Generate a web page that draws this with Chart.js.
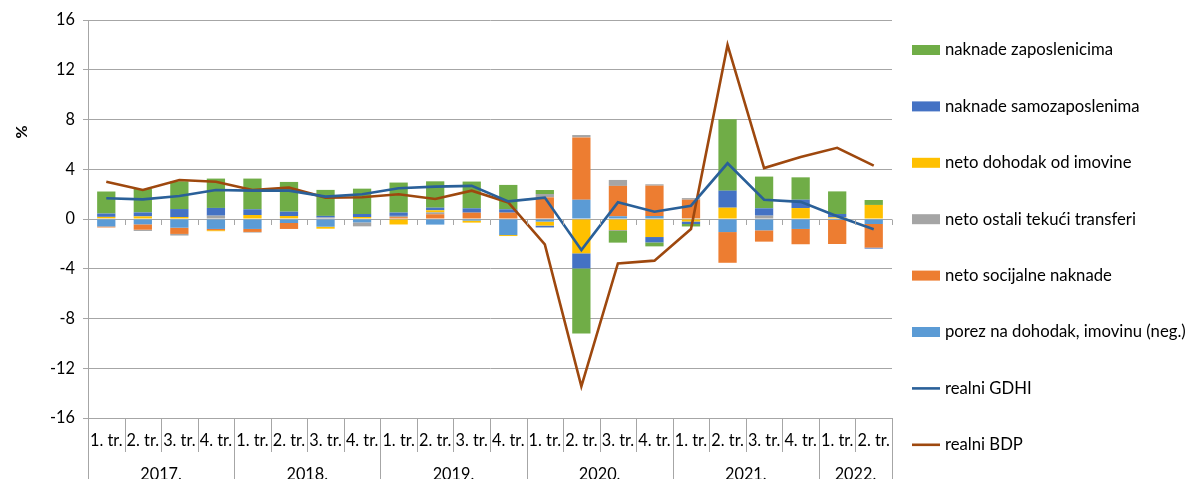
<!DOCTYPE html>
<html><head><meta charset="utf-8">
<script src="https://cdn.jsdelivr.net/npm/chart.js@4.4.0/dist/chart.umd.min.js"></script>
<style>html,body{margin:0;padding:0;background:#fff;overflow:hidden}</style>
</head><body>
<canvas id="c" width="1188" height="479" style="width:1188px;height:479px;display:block"></canvas>
<script>
const quarters = ['1. tr.','2. tr.','3. tr.','4. tr.','1. tr.','2. tr.','3. tr.','4. tr.','1. tr.','2. tr.','3. tr.','4. tr.','1. tr.','2. tr.','3. tr.','4. tr.','1. tr.','2. tr.','3. tr.','4. tr.','1. tr.','2. tr.'];
const years = ['2017.','2018.','2019.','2020.','2021.','2022.'];
const yearSpans = [4,4,4,4,4,2];
const yTicks = [-16,-12,-8,-4,0,4,8,12,16];

const porez       = [-0.6,-0.43,-0.7,-0.8,-0.8,-0.32,-0.62,-0.27,-0.02,-0.45,-0.13,-1.29,-0.21,1.55,0.22,0.24,0.05,-1.05,-0.91,-0.8,-0.08,-0.4];
const socijalne   = [-0.08,-0.43,-0.5,-0.1,-0.24,-0.48,0,0,0.15,0.38,0.51,0.51,1.74,5.01,2.44,2.44,1.5,-2.47,-0.91,-1.23,-1.93,-1.9];
const ostali      = [0.05,-0.1,-0.13,0.27,-0.05,0.05,0.12,-0.32,0.1,0.16,0,0,0.27,0.19,0.48,0.11,0.13,0,0.27,0,0.05,0];
const imovina     = [0.12,0.21,0.16,-0.08,0.32,0.19,-0.16,0.16,-0.42,0.16,-0.16,-0.08,-0.32,-2.76,-0.91,-1.45,-0.2,0.91,0,0.88,0.08,1.13];
const samozap     = [0.27,0.32,0.64,0.62,0.46,0.35,0.13,0.24,0.27,0.21,0.35,0.27,-0.15,-1.21,-0.05,-0.43,-0.2,1.37,0.59,0.67,0.27,-0.08];
const zaposlenici = [1.77,1.88,2.23,2.36,2.47,2.39,2.09,2.04,2.41,2.12,2.15,1.96,0.32,-5.23,-0.94,-0.32,-0.2,5.74,2.55,1.8,1.82,0.4];
const gdhi        = [1.67,1.58,1.85,2.33,2.28,2.28,1.8,1.99,2.47,2.6,2.66,1.42,1.72,-2.49,1.34,0.59,1.07,4.48,1.55,1.38,0.22,-0.83];
const bdp         = [3.0,2.33,3.14,3.0,2.33,2.52,1.72,1.75,1.99,1.61,2.28,1.33,-2.04,-13.45,-3.57,-3.35,-0.8,14.0,4.1,4.98,5.72,4.29];

const FONT = 'Lato, "Open Sans", sans-serif';
const GRID = '#A6A6A6';

function bar(label, data, color){
  return {type:'bar', label, data, backgroundColor:color, borderWidth:0, stack:'s', order:1,
          barPercentage:0.5, categoryPercentage:1.0};
}
function line(label, data, color, st){
  return {type:'line', label, data, borderColor:color, backgroundColor:color, borderWidth:2.6,
          pointRadius:0, tension:0, fill:false, stack:st, order:0};
}

const datasets = [
  bar('porez na dohodak, imovinu (neg.)', porez, '#5B9BD5'),
  bar('neto socijalne naknade', socijalne, '#ED7D31'),
  bar('neto ostali tekući transferi', ostali, '#A5A5A5'),
  bar('neto dohodak od imovine', imovina, '#FFC000'),
  bar('naknade samozaposlenima', samozap, '#4472C4'),
  bar('naknade zaposlenicima', zaposlenici, '#70AD47'),
  line('realni GDHI', gdhi, '#2A6099', 'l1'),
  line('realni BDP', bdp, '#9E480E', 'l2')
];
const legendOrder = [5,4,3,2,1,0,6,7];

const customDraw = {
  id:'customDraw',
  afterDraw(chart){
    const ctx = chart.ctx, xs = chart.scales.x, ys = chart.scales.y, ca = chart.chartArea;
    const half = (xs.getPixelForValue(1) - xs.getPixelForValue(0)) / 2;
    const n = quarters.length;
    const y0 = ys.getPixelForValue(0);
    ctx.save();
    ctx.strokeStyle = GRID; ctx.lineWidth = 1;
    const yearBounds = new Set([0]);
    let acc = 0; yearSpans.forEach(s => { acc += s; yearBounds.add(acc); });
    for (let k = 0; k <= n; k++){
      const x = Math.round(xs.getPixelForValue(k) - half) + 0.5;
      if (k > 0){
        ctx.beginPath(); ctx.moveTo(x, Math.round(y0)+0.5); ctx.lineTo(x, Math.round(y0)+6); ctx.stroke();
      }
      ctx.beginPath();
      ctx.moveTo(x, ca.bottom);
      ctx.lineTo(x, yearBounds.has(k) ? chart.height : ca.bottom + 34);
      ctx.stroke();
    }
    ctx.fillStyle = '#000';
    ctx.font = '16.3px ' + FONT;
    ctx.textAlign = 'center'; ctx.textBaseline = 'alphabetic';
    quarters.forEach((q,i) => ctx.fillText(q, xs.getPixelForValue(i), ca.bottom + 28));
    let start = 0;
    years.forEach((yl,j) => {
      const a = xs.getPixelForValue(start) - half;
      const b = xs.getPixelForValue(start + yearSpans[j] - 1) + half;
      ctx.fillText(yl, (a+b)/2, chart.height + 1);
      start += yearSpans[j];
    });
    ctx.save();
    ctx.translate(22, 132); ctx.rotate(-Math.PI/2);
    ctx.font = 'bold 16px ' + FONT; ctx.textBaseline = 'middle';
    ctx.fillText('%', 0, 0);
    ctx.restore();
    ctx.font = '16.7px ' + FONT; ctx.textAlign = 'left'; ctx.textBaseline = 'middle';
    legendOrder.forEach((di, i) => {
      const ds = chart.data.datasets[di];
      const cy = 50 + i * 56.4;
      if (ds.type === 'bar'){
        ctx.fillStyle = ds.backgroundColor;
        ctx.fillRect(912, cy - 5, 28, 10);
      } else {
        ctx.strokeStyle = ds.borderColor; ctx.lineWidth = 2.6;
        ctx.beginPath(); ctx.moveTo(912, cy); ctx.lineTo(940, cy); ctx.stroke();
      }
      ctx.fillStyle = '#000';
      ctx.fillText(ds.label, 945, cy);
    });
    ctx.restore();
  }
};

new Chart(document.getElementById('c'), {
  type:'bar',
  data:{labels:quarters, datasets},
  options:{
    responsive:false, animation:false,
    layout:{padding:{top:20, right:296, left:0, bottom:0}},
    plugins:{legend:{display:false}, tooltip:{enabled:false}},
    scales:{
      x:{stacked:true, offset:true, grid:{display:false}, border:{display:false},
         ticks:{display:false}, afterFit(s){ s.height = 61; }},
      y:{stacked:true, min:-16, max:16,
         afterBuildTicks(s){ s.ticks = yTicks.map(v => ({value:v})); },
         afterFit(s){ s.width = 88; },
         grid:{color:GRID, lineWidth:1, tickLength:5, drawTicks:true},
         border:{color:GRID, width:1},
         ticks:{padding:8, color:'#000', font:{family:FONT, size:16.3}}}
    }
  },
  plugins:[customDraw]
});
</script>
</body></html>
